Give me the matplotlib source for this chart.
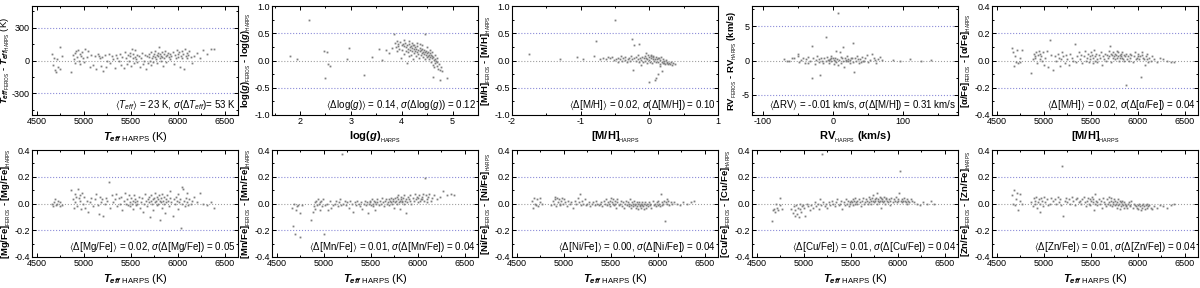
"""
FEROS vs HARPS comparison: residuals of stellar parameters and abundances.
"""

import numpy as np
import matplotlib.pyplot as plt
from matplotlib.ticker import MultipleLocator

# === Data ===
# Teff (K) of the comparison stars, shared by every Teff panel
TEFF = [
    4662, 4671, 4688, 4695, 4703, 4718, 4727, 4744, 4752, 4768,
    4866, 4884, 4893, 4905, 4912, 4921, 4933, 4941, 4948, 4957,
    4963, 4972, 4985, 4991, 5004, 5016, 5033, 5048, 5062, 5077,
    5095, 5118, 5134, 5147, 5163, 5178, 5186, 5199, 5208, 5221,
    5236, 5252, 5268, 5281, 5297, 5313, 5329, 5344, 5358, 5371,
    5386, 5398, 5412, 5424, 5437, 5446, 5458, 5467, 5479, 5488,
    5496, 5504, 5511, 5519, 5527, 5533, 5541, 5548, 5556, 5563,
    5571, 5584, 5597, 5608, 5616, 5629, 5641, 5652, 5664, 5673,
    5681, 5689, 5697, 5705, 5712, 5718, 5726, 5733, 5741, 5748,
    5755, 5761, 5768, 5774, 5781, 5787, 5793, 5799, 5806, 5812,
    5818, 5824, 5831, 5837, 5843, 5850, 5857, 5864, 5871, 5879,
    5886, 5894, 5903, 5912, 5921, 5933, 5944, 5956, 5967, 5978,
    5989, 5997, 6006, 6014, 6023, 6031, 6040, 6048, 6057, 6066,
    6075, 6084, 6093, 6102, 6113, 6124, 6137, 6151, 6176, 6203,
    6237, 6268, 6309, 6352, 6381,
]

# Teff_FEROS - Teff_HARPS (K)
D_TEFF = [
    60, -40, 20, -90, -110, 10, -60, 120, -80, 40,
    -110, 50, 10, 70, -20, 90, 30, 100, 0, 60,
    -30, 40, 80, 20, -10, 110, 30, 90, -60, 50,
    -40, 40, -80, 60, 40, 20, -50, 30, -100, 50,
    -60, 0, 60, -20, 40, 10, -70, 50, 20, 0,
    60, -40, 30, -70, 80, 20, -30, 50, 0, 40,
    70, -50, 110, 20, 60, -20, 30, 100, 10, 50,
    -10, 40, -60, 20, 70, -30, 0, 50, -80, 40,
    -20, 30, 60, 0, -40, 80, 20, 40, -10, 60,
    30, 90, 10, 50, -20, 70, 40, 120, 20, 60,
    0, 40, 80, 30, -50, 60, 20, 90, 40, -10,
    50, 70, 30, 10, 60, 40, 80, -30, 50, 20,
    100, 60, 30, 80, -60, 40, 90, 20, 60, -80,
    110, 40, 70, 20, 50, 90, 30, -20, 40, 70,
    20, 100, 60, 110, 110,
]

# abundance residuals, in units of 0.01 dex
D_ALPHA = [
    9, 6, -4, 3, -1, 8, -2, 2, -1, 8,
    -9, 1, 5, 2, 3, 6, -2, 4, 7, 1,
    5, 3, 0, 6, -3, 2, 7, -5, 15, 4,
    -7, 3, 0, 5, 2, -4, 1, 6, 3, -2,
    4, 1, -3, 5, 2, 0, 12, -1, 3, 6,
    1, 4, -2, 3, 7, 0, 2, 5, -1, 3,
    1, 6, 4, -2, 2, 8, 0, 3, 5, 1,
    -1, 4, 2, 6, -3, 3, 1, 5, 0, 4,
    2, 7, 3, 11, -1, 5, 4, 2, 6, 3,
    1, 5, 4, 7, 2, 3, 6, 0, 4, 2,
    3, 5, 2, 6, 1, 4, 0, 3, 5, -18,
    1, 3, 0, 5, 2, 4, -1, 3, 6, 1,
    2, 5, 3, 1, 3, -12, 4, 6, 2, 1,
    -3, 3, 5, 1, -1, 2, 0, 3, 1, -1,
    2, 1, 0, -1, -1,
]
D_MG = [
    0, -2, 1, 3, -1, 0, 2, -2, 1, -1,
    10, 3, -3, 7, 1, 5, -2, 11, 4, 6,
    2, -4, 8, 0, 5, -3, 2, -6, 1, 4,
    -2, 3, 7, -1, -8, 5, 1, 3, -9, 0,
    4, 2, 16, -3, 6, 1, 3, 7, -2, 4,
    0, 5, -5, 2, 8, 0, 3, -1, 6, 1,
    -2, 4, 0, 2, -4, 6, 1, 3, -1, 0,
    2, 5, -3, 1, 4, -6, 0, 7, 2, -2,
    3, 1, 5, -10, 2, 6, 0, 3, -5, 4,
    1, 8, 2, -1, 5, 3, 0, 6, -12, 2,
    4, 1, -3, 7, 2, 0, 5, -7, 3, 1,
    6, 2, -2, 4, 9, 1, -9, 3, 0, 5,
    2, -4, 7, 1, 3, -18, 12, 0, 11, 2,
    -2, 4, 1, 8, -1, 3, 0, 2, 5, 1,
    8, 0, -1, 1, -3,
]
D_MN = [
    -3, -17, 0, -23, -5, -2, -1, -7, -25, -1,
    -12, -6, -2, 1, -4, 2, -1, 3, 0, -5,
    1, 2, -2, 3, -23, -1, 0, -5, 2, -3,
    -1, 0, 2, -2, 1, 3, -1, 37, 0, 2,
    -1, 1, -3, 2, 0, -6, 1, -1, 2, 0,
    -2, 1, -4, 0, 2, -1, 1, -7, 0, 2,
    1, -1, 3, 0, -2, 2, 1, -5, 0, 3,
    1, -1, 2, 0, 4, 1, -2, 2, 3, 0,
    1, 3, -1, 2, 4, 1, 0, 3, 2, -3,
    4, 1, 2, 5, 0, 3, 6, 1, 2, -4,
    3, 5, 1, 2, 4, 0, 6, 2, 3, -7,
    1, 5, 3, 2, 6, 0, 4, 2, 7, 3,
    5, 1, 4, 6, 2, 3, 3, 5, 7, 2,
    19, 6, 3, 1, 5, 7, 2, 4, 6, 3,
    5, 9, 6, 7, 6,
]
D_NI = [
    2, -3, 4, 0, -1, 3, -2, 4, 1, 0,
    -1, 2, 0, 3, 5, -2, 4, 1, 3, 0,
    -1, 2, 4, 0, 3, 1, -2, 2, 0, 1,
    -3, 2, 0, 4, 1, 7, -1, 2, 0, 3,
    -1, 0, 1, -2, 0, 1, -1, 2, 0, -1,
    0, 1, -2, 2, 0, 3, -1, 1, 0, 2,
    -2, 4, 1, 0, 3, -1, 2, 0, -3, 1,
    3, -1, 0, 2, -2, 1, -3, 0, 2, -1,
    1, -2, 0, 3, -1, -3, 1, 0, -2, 2,
    -1, 0, -3, 1, -2, 0, -4, 1, -1, -2,
    0, -3, 1, -1, -2, 0, -4, 1, -1, -3,
    0, -2, 1, -1, 0, -3, 2, -1, 0, -2,
    1, -1, 2, 0, -2, 7, 1, -1, 0, 2,
    -13, 1, 3, 0, 2, -1, 1, 0, 1, 0,
    -1, 1, 0, 1, 2,
]
D_CU = [
    -13, -5, -4, -6, 0, -3, -5, 4, -1, -4,
    -4, -7, -2, -9, -5, -1, -8, -3, -10, 0,
    -4, -6, -2, -1, -3, -9, 0, -2, -5, -1,
    -3, 1, -2, 0, -4, 3, -1, 37, 1, -2,
    0, -3, 1, -1, 2, 0, -2, 1, 3, -1,
    0, 2, -4, 1, -1, 3, 0, 2, -2, 1,
    0, 2, 1, 3, -1, 2, 0, 4, 1, 2,
    0, 3, 1, -2, 2, 4, 0, 1, 3, 2,
    0, 5, 1, 3, 2, 0, 4, 2, 6, 1,
    3, 2, 4, 0, 8, 2, 3, 1, 5, 2,
    -3, 4, 2, 3, 1, 5, 2, 0, 3, 4,
    2, 1, 3, -1, 2, 4, 1, 3, 2, 5,
    1, 3, 2, 8, 24, 2, 3, 1, 2, 4,
    2, 1, 3, 0, 2, 1, 3, 2, 1, 0,
    -1, 1, 0, 2, 0,
]
D_ZN = [
    6, 0, 10, -1, 3, 8, -5, 7, 2, 0,
    1, -2, 4, 0, 2, 5, -3, 1, 3, -6,
    0, 4, 2, -2, 5, 1, 3, -1, 0, 4,
    2, 3, 0, 5, 1, 3, -1, 28, -9, 2,
    4, 1, 3, 0, 5, 2, -1, 3, 4, 1,
    2, 0, 3, 5, 1, -2, 2, 4, 0, 3,
    -1, 2, 5, 1, 3, -5, 0, 7, 2, 1,
    -1, 3, 0, 2, -3, 4, 1, 0, -2, 3,
    0, 5, 1, -1, 2, 4, -2, 1, 0, 3,
    -1, 2, 0, -3, 1, 3, -1, 0, 2, -4,
    1, -2, 0, 2, -1, -3, 1, 0, -2, -1,
    -3, 0, 1, -2, -1, 2, -3, 0, -1, -2,
    -3, -1, -4, 0, -2, -5, -1, -3, 0, -2,
    -4, -1, -3, 0, -2, -1, -3, -4, -2, -3,
    -1, -2, -3, -1, 0,
]

# (log g HARPS, delta log g)
LOGG_PAIRS = [
    (1.80, 0.08), (1.95, 0.03), (2.17, 0.75), (2.48, 0.18), (2.53, 0.16),
    (2.55, -0.06), (2.50, -0.32), (2.60, -0.11), (2.92, 0.03), (2.97, 0.23),
    (3.25, -0.27), (3.42, 0.07), (3.55, 0.22), (3.62, 0.01), (3.70, 0.20),
    (3.75, 0.14), (3.80, 0.23), (3.85, 0.48), (3.86, 0.33), (3.88, 0.25),
    (3.90, 0.36), (3.91, 0.18), (3.92, 0.27), (3.93, 0.30), (3.95, 0.22),
    (3.96, 0.34), (3.98, 0.05), (4.00, 0.28), (4.01, 0.20), (4.02, 0.31),
    (4.04, 0.12), (4.05, 0.26), (4.05, 0.37), (4.06, 0.33), (4.08, 0.18),
    (4.09, 0.24), (4.10, -0.05), (4.11, 0.29), (4.12, 0.15), (4.13, 0.22),
    (4.14, 0.30), (4.15, 0.08), (4.15, 0.35), (4.16, 0.25), (4.17, 0.19),
    (4.18, 0.27), (4.19, 0.11), (4.20, 0.23), (4.20, 0.32), (4.21, 0.17),
    (4.22, 0.28), (4.23, 0.02), (4.24, 0.21), (4.25, 0.14), (4.25, 0.28),
    (4.26, 0.25), (4.27, 0.18), (4.28, 0.09), (4.29, 0.22), (4.30, 0.16),
    (4.30, 0.33), (4.31, 0.26), (4.32, 0.12), (4.33, 0.20), (4.34, 0.05),
    (4.35, 0.17), (4.35, 0.30), (4.36, 0.23), (4.37, 0.10), (4.38, 0.19),
    (4.39, 0.14), (4.40, 0.21), (4.40, 0.28), (4.41, 0.07), (4.42, 0.16),
    (4.43, 0.12), (4.44, 0.19), (4.45, 0.48), (4.45, 0.03), (4.46, 0.15),
    (4.47, 0.10), (4.48, 0.18), (4.49, 0.06), (4.50, 0.13), (4.50, 0.25),
    (4.51, 0.16), (4.52, 0.08), (4.53, 0.11), (4.54, 0.02), (4.55, 0.14),
    (4.55, 0.20), (4.56, 0.07), (4.57, 0.10), (4.58, -0.02), (4.59, 0.09),
    (4.60, 0.04), (4.60, 0.15), (4.61, -0.08), (4.62, 0.06), (4.62, -0.30),
    (4.63, 0.01), (4.64, -0.12), (4.65, 0.03), (4.65, 0.10), (4.66, -0.05),
    (4.67, 0.00), (4.69, -0.10), (4.70, -0.03), (4.70, 0.05), (4.72, -0.15),
    (4.74, -0.07), (4.75, -0.35), (4.76, -0.18), (4.78, -0.12), (4.80, -0.20),
    (4.90, -0.33),
]

# ([M/H] HARPS, delta [M/H])
MH_PAIRS = [
    (-1.75, 0.12), (-1.30, 0.03), (-1.05, 0.06), (-0.97, 0.02), (-0.80, 0.08),
    (-0.78, 0.36), (-0.72, 0.02), (-0.68, 0.05), (-0.63, 0.03), (-0.60, 0.07),
    (-0.57, 0.04), (-0.55, 0.06), (-0.52, 0.01), (-0.50, 0.75), (-0.48, 0.03),
    (-0.46, -0.02), (-0.45, 0.05), (-0.43, 0.02), (-0.41, 0.08), (-0.40, -0.01),
    (-0.38, 0.04), (-0.36, 0.01), (-0.35, 0.06), (-0.33, -0.02), (-0.31, 0.03),
    (-0.30, 0.05), (-0.28, 0.00), (-0.27, 0.09), (-0.25, 0.39), (-0.25, 0.02),
    (-0.24, -0.18), (-0.22, 0.28), (-0.22, 0.04), (-0.20, -0.01), (-0.19, 0.06),
    (-0.17, 0.02), (-0.16, 0.10), (-0.15, 0.30), (-0.15, -0.03), (-0.13, 0.05),
    (-0.12, 0.01), (-0.12, -0.08), (-0.10, 0.07), (-0.09, -0.02), (-0.08, 0.04),
    (-0.07, 0.09), (-0.06, 0.00), (-0.05, 0.05), (-0.05, 0.13), (-0.04, -0.04),
    (-0.03, 0.03), (-0.02, 0.11), (-0.01, 0.01), (0.00, -0.40), (0.00, 0.06),
    (0.01, -0.02), (0.02, 0.04), (0.02, 0.10), (0.03, 0.08), (0.04, -0.05),
    (0.05, 0.02), (0.06, 0.06), (0.06, 0.08), (0.07, -0.01), (0.08, -0.36),
    (0.08, 0.03), (0.09, 0.07), (0.10, -0.32), (0.10, -0.03), (0.11, 0.02),
    (0.12, 0.05), (0.12, -0.25), (0.13, -0.02), (0.14, 0.04), (0.15, -0.06),
    (0.15, -0.10), (0.16, 0.01), (0.17, 0.06), (0.18, -0.03), (0.19, -0.20),
    (0.20, -0.05), (0.20, 0.02), (0.21, -0.04), (0.22, -0.01), (0.23, -0.06),
    (0.24, 0.01), (0.25, -0.05), (0.26, -0.03), (0.27, -0.07), (0.28, -0.04),
    (0.30, -0.06), (0.31, -0.03), (0.33, -0.08), (0.35, -0.05), (0.38, -0.07),
]

# (RV HARPS, delta RV) in km/s
RV_PAIRS = [
    (-70, 0.2), (-65, 0.0), (-62, -0.1), (-58, 0.3), (-55, 0.3),
    (-50, 1.0), (-50, 0.6), (-48, -0.2), (-45, 0.1), (-42, 0.4),
    (-40, -0.3), (-38, 0.2), (-36, -0.4), (-35, 0.5), (-33, -0.1),
    (-30, 2.2), (-30, -2.6), (-28, 0.3), (-26, -0.5), (-24, 0.1),
    (-22, 0.6), (-20, -0.2), (-19, 0.2), (-18, -2.1), (-17, 0.4),
    (-15, 0.0), (-14, -0.4), (-12, 0.3), (-10, 3.5), (-10, -0.1),
    (-8, 0.5), (-7, 0.1), (-6, 0.1), (-5, -0.3), (-4, 0.2),
    (-3, 0.7), (-2, -0.1), (-2, 0.4), (0, 0.3), (1, -0.5),
    (2, 0.1), (3, 0.4), (3, -0.1), (4, -0.2), (5, 1.4),
    (6, 0.2), (7, -0.6), (8, 7.0), (9, 0.1), (10, 1.3),
    (11, -0.3), (12, 0.5), (13, 0.3), (14, 0.0), (15, 2.0),
    (16, -0.9), (17, 0.3), (18, 0.1), (19, -0.1), (20, 0.6),
    (21, -0.1), (22, 0.2), (24, -0.4), (25, 0.1), (26, 0.3),
    (27, 0.4), (28, 2.6), (29, -0.2), (30, -1.7), (31, 0.3),
    (33, 0.0), (35, 0.7), (36, 0.2), (37, -0.3), (39, 0.2),
    (40, -0.2), (41, 0.5), (43, -0.1), (45, 0.0), (46, 0.3),
    (48, 0.8), (50, -0.2), (53, 0.1), (55, 1.0), (58, 0.4),
    (60, 0.1), (61, -0.3), (64, 0.2), (67, 0.5), (70, 0.1),
    (85, 0.1), (95, 0.0), (110, 0.2), (125, 0.0), (140, 0.1),
]

# === Style ===
plt.rcParams["font.family"] = ["Liberation Sans", "DejaVu Sans"]
plt.rcParams["mathtext.fontset"] = "custom"
plt.rcParams["mathtext.rm"] = "Liberation Sans"
plt.rcParams["mathtext.it"] = "Liberation Sans:italic"
plt.rcParams["mathtext.bf"] = "Liberation Sans:bold"
plt.rcParams["mathtext.bfit"] = "Liberation Sans:italic:bold"
plt.rcParams["mathtext.fallback"] = "stixsans"
plt.rcParams["axes.unicode_minus"] = False

POINT_COLOR = "#808080"
ZERO_COLOR = "#a0a0a0"
GUIDE_COLOR = "#8c8cd8"

# tiny subscript tags (nested subscript gives the small size of the original)
FEROS = r"$_{_{\mathrm{FEROS}}}$"
HARPS = r"$_{_{\mathrm{HARPS}}}$"
TEFF_X = r"$\mathbfit{T}_{\mathbfit{eff}\ \mathrm{HARPS}}$ $\mathrm{(K)}$"


def abund_label(el):
    return f"[{el}/Fe]{FEROS} - [{el}/Fe]{HARPS}"


def style_axis(ax, xlim, ylim, xmaj, xmin, ymaj, ymin, guide):
    ax.set_xlim(*xlim)
    ax.set_ylim(*ylim)
    ax.xaxis.set_major_locator(MultipleLocator(xmaj))
    ax.xaxis.set_minor_locator(MultipleLocator(xmin))
    ax.yaxis.set_major_locator(MultipleLocator(ymaj))
    ax.yaxis.set_minor_locator(MultipleLocator(ymin))
    ax.tick_params(which="both", direction="in", top=True, right=True,
                   labelsize=6.5, pad=1.5, width=0.7)
    ax.tick_params(which="major", length=3)
    ax.tick_params(which="minor", length=1.5)
    for s in ax.spines.values():
        s.set_linewidth(0.8)
    ax.axhline(0, color=ZERO_COLOR, ls=":", lw=0.8, zorder=0)
    ax.axhline(guide, color=GUIDE_COLOR, ls=":", lw=0.8, zorder=0)
    ax.axhline(-guide, color=GUIDE_COLOR, ls=":", lw=0.8, zorder=0)


def scatter(ax, x, y):
    ax.plot(x, y, ls="none", marker="s", ms=1.3, mew=0, color=POINT_COLOR)


def note(ax, text):
    ax.text(0.99, 0.09, text, transform=ax.transAxes, ha="right",
            va="center", fontsize=7)


def set_ylabel(ax, text, xpos=-0.09):
    ax.set_ylabel(text, fontsize=6.8, fontweight="bold")
    ax.yaxis.set_label_coords(xpos, 0.5)


def main():
    fig = plt.figure(figsize=(12, 2.88), dpi=100)

    lefts = [32, 272, 512, 752, 992]
    w = 206 / 1200
    row1 = [(l / 1200, 1 - 115 / 288, w, 109 / 288) for l in lefts]
    row2 = [(l / 1200, 1 - 257 / 288, w, 107 / 288) for l in lefts]
    axes1 = [fig.add_axes(r) for r in row1]
    axes2 = [fig.add_axes(r) for r in row2]

    teff = np.array(TEFF)
    xlab_kw = dict(fontsize=8, fontweight="bold", labelpad=3)

    # 1. Teff
    ax = axes1[0]
    style_axis(ax, (4450, 6640), (-500, 500), 500, 250, 300, 150, 300)
    scatter(ax, teff, np.array(D_TEFF))
    ax.set_xlabel(TEFF_X, **xlab_kw)
    set_ylabel(ax, r"$\mathbfit{T}_{\mathbfit{eff}}$" + FEROS + " - "
               r"$\mathbfit{T}_{\mathbfit{eff}}$" + HARPS + r" $\mathrm{(K)}$", -0.095)
    note(ax, r"$\langle T_{eff}\rangle$ = 23 K, $\sigma(\Delta T_{eff})$= 53 K")

    # 2. log g
    ax = axes1[1]
    lx, ly = zip(*LOGG_PAIRS)
    style_axis(ax, (1.45, 5.5), (-1, 1), 1, 0.5, 0.5, 0.25, 0.5)
    ax.yaxis.set_major_formatter(lambda v, p: f"{v:.1f}")
    scatter(ax, lx, ly)
    ax.set_xlabel(r"log($\mathbfit{g}$)" + HARPS, **xlab_kw)
    set_ylabel(ax, r"log($\mathbfit{g}$)" + FEROS + r" - log($\mathbfit{g}$)" + HARPS)
    note(ax, r"$\langle\Delta$log($g$)$\rangle$ = 0.14, $\sigma$($\Delta$log($g$)) = 0.12")

    # 3. [M/H]
    ax = axes1[2]
    mx, my = zip(*MH_PAIRS)
    style_axis(ax, (-2, 1), (-1, 1), 1, 0.5, 0.5, 0.25, 0.5)
    ax.yaxis.set_major_formatter(lambda v, p: f"{v:.1f}")
    scatter(ax, mx, my)
    ax.set_xlabel("[M/H]" + HARPS, **xlab_kw)
    set_ylabel(ax, "[M/H]" + FEROS + " - [M/H]" + HARPS)
    note(ax, r"$\langle\Delta$[M/H]$\rangle$ = 0.02, $\sigma$($\Delta$[M/H]) = 0.10")

    # 4. RV
    ax = axes1[3]
    rx, ry = zip(*RV_PAIRS)
    style_axis(ax, (-115, 178), (-8, 8), 100, 50, 5, 2.5, 5)
    scatter(ax, rx, ry)
    ax.set_xlabel("RV" + HARPS + " (km/s)", **xlab_kw)
    set_ylabel(ax, "RV" + FEROS + " - RV" + HARPS + " (km/s)", -0.065)
    note(ax, r"$\langle\Delta$RV$\rangle$ = -0.01 km/s, $\sigma$($\Delta$[M/H]) = 0.31 km/s")

    # 5. [alpha/Fe]
    ax = axes1[4]
    style_axis(ax, (4450, 6640), (-0.4, 0.4), 500, 250, 0.2, 0.1, 0.2)
    ax.yaxis.set_major_formatter(lambda v, p: f"{v:.1f}")
    scatter(ax, teff, np.array(D_ALPHA) / 100)
    ax.set_xlabel("[M/H]" + HARPS, **xlab_kw)
    set_ylabel(ax, "[α/Fe]" + FEROS + " - [α/Fe]" + HARPS)
    note(ax, r"$\langle\Delta$[M/H]$\rangle$ = 0.02, $\sigma$($\Delta$[α/Fe]) = 0.04")

    # bottom row: abundances vs Teff
    rows = [
        ("Mg", D_MG, "0.02", "0.05"),
        ("Mn", D_MN, "0.01", "0.04"),
        ("Ni", D_NI, "0.00", "0.04"),
        ("Cu", D_CU, "0.01", "0.04"),
        ("Zn", D_ZN, "0.01", "0.04"),
    ]
    for ax, (el, vals, mean, sig) in zip(axes2, rows):
        style_axis(ax, (4450, 6640), (-0.4, 0.4), 500, 250, 0.2, 0.1, 0.2)
        ax.yaxis.set_major_formatter(lambda v, p: f"{v:.1f}")
        scatter(ax, teff, np.array(vals) / 100)
        ax.set_xlabel(TEFF_X, **xlab_kw)
        set_ylabel(ax, abund_label(el))
        note(ax, rf"$\langle\Delta$[{el}/Fe]$\rangle$ = {mean}, "
                 rf"$\sigma$($\Delta$[{el}/Fe]) = {sig}")

    fig.savefig("out.png", dpi=100)


if __name__ == "__main__":
    main()
